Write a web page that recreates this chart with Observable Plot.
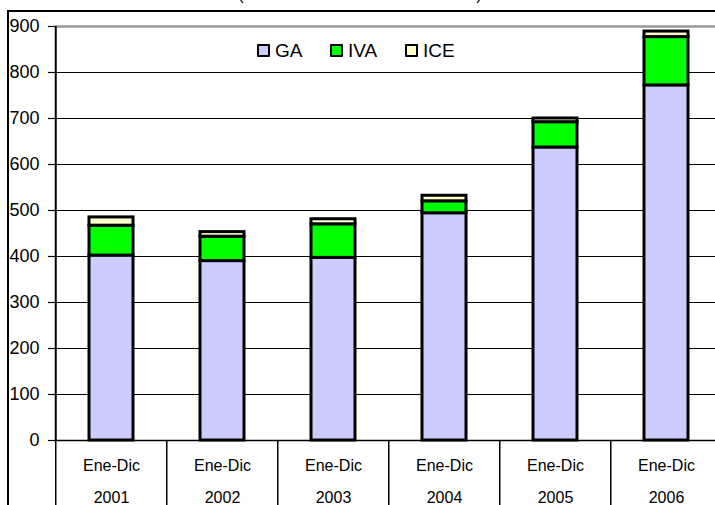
<!DOCTYPE html>
<html><head><meta charset="utf-8">
<script src="https://cdn.jsdelivr.net/npm/d3@7"></script>
<script src="https://cdn.jsdelivr.net/npm/@observablehq/plot@0.6"></script>
<style>
body{margin:0;background:#fff;font-family:"Liberation Sans",Arial,sans-serif;}
#wrap{position:relative;width:715px;height:505px;overflow:hidden;background:#fff;}
#title{position:absolute;top:-14px;left:0;width:720px;text-align:center;font-size:17px;line-height:17px;color:#000;white-space:nowrap;}
#box{position:absolute;left:6.5px;top:10px;width:800px;height:600px;border-left:2px solid #000;border-top:2px solid #000;}
#chart{position:absolute;left:0;top:0;}
#legend{position:absolute;top:40px;left:0;}
.li{position:absolute;top:0;font-size:19px;line-height:22px;color:#000;white-space:nowrap;}
.sw{position:absolute;top:4px;left:0;width:9px;height:9px;border:2px solid #000;border-radius:1px;}
.lt{position:absolute;top:0;left:18px;}
</style></head><body>
<div id="wrap">
  <div id="title">(Millones de Dólares Corrientes)</div>
  <div id="box"></div>
  <div id="chart"></div>
  <div id="legend"></div>
</div>
<script>
const years = ["2001", "2002", "2003", "2004", "2005", "2006"];
const periodLabel = "Ene-Dic";
const series = ["GA", "IVA", "ICE"];
const gaValues  = [402, 390, 397, 494, 637, 772];
const ivaValues = [65, 53, 73, 26, 55, 105];
const iceValues = [18, 10, 11, 12, 8, 12];
const seriesColors = ["#CCCCFF", "#00FF00", "#FFFFCC"];
const yTicks = [0, 100, 200, 300, 400, 500, 600, 700, 800, 900];

const valuesBySeries = {GA: gaValues, IVA: ivaValues, ICE: iceValues};
const data = [];
series.forEach(s => years.forEach((y, i) => data.push({year: y, series: s, value: valuesBySeries[s][i]})));

const rangeX = [54, 723];
const step = (rangeX[1] - rangeX[0]) / years.length;

const chart = Plot.plot({
  width: 715, height: 505,
  marginLeft: 54, marginRight: 0, marginTop: 26, marginBottom: 65,
  style: {fontFamily: "'Liberation Sans', Arial, sans-serif", background: "transparent", overflow: "hidden"},
  x: {type: "band", domain: years, range: rangeX, paddingInner: 0.6, paddingOuter: 0.3, axis: null},
  y: {domain: [0, 900], axis: null},
  color: {domain: series, range: seriesColors},
  marks: [
    Plot.ruleY(yTicks.filter(t => t > 0 && t < 900), {stroke: "#000", strokeWidth: 1.2}),
    Plot.ruleY([900], {stroke: "#999", strokeWidth: 2.5}),
    Plot.barY(data, {x: "year", y: "value", fill: "series", order: series, stroke: "#000", strokeWidth: 3}),
    Plot.ruleY([0], {stroke: "#000", strokeWidth: 1.5}),
    Plot.ruleX(years, {x: d => d, y1: 0, y2: -200, dx: -step / 2, stroke: "#000", strokeWidth: 1.5}),
    Plot.ruleX([years[0]], {x: d => d, y1: 0, y2: 900, dx: -step / 2, stroke: "#000", strokeWidth: 2}),
    Plot.axisY({ticks: yTicks, tickSize: 6, tickPadding: 9, fontSize: 18, stroke: "#000", strokeWidth: 1.2, fill: "#000", label: null}),
    Plot.text(years, {x: d => d, y: 0, text: () => periodLabel, dy: 25, fontSize: 16, fill: "#000"}),
    Plot.text(years, {x: d => d, y: 0, text: d => d, dy: 57, fontSize: 16, fill: "#000"})
  ]
});
document.getElementById("chart").appendChild(chart);

const legendX = [257, 330, 405];
const legend = document.getElementById("legend");
series.forEach((s, i) => {
  const item = document.createElement("div");
  item.className = "li";
  item.style.left = legendX[i] + "px";
  const sw = document.createElement("div");
  sw.className = "sw";
  sw.style.background = seriesColors[i];
  const t = document.createElement("span");
  t.className = "lt";
  t.textContent = s;
  item.appendChild(sw); item.appendChild(t);
  legend.appendChild(item);
});
</script>
</body></html>
